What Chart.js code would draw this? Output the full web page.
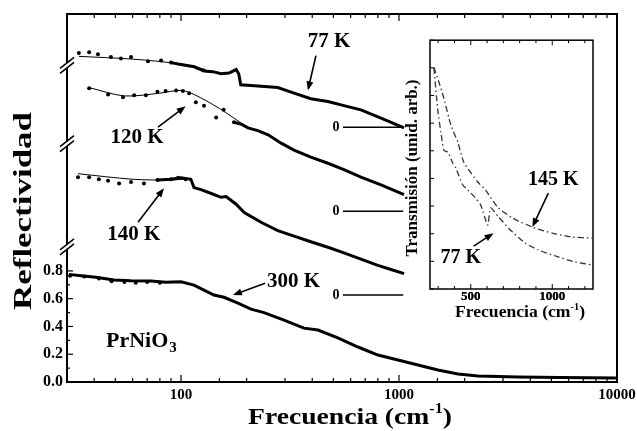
<!DOCTYPE html>
<html lang="es">
<head>
<meta charset="UTF-8">
<title>PrNiO3 - Reflectividad</title>
<script src="https://cdn.jsdelivr.net/npm/chart.js"></script>
<style>
  html, body { margin: 0; padding: 0; background: #fff; }
  #wrap { position: relative; width: 637px; height: 431px; }
  #main { position: absolute; left: 0; top: 0; }
  #inset { position: absolute; left: 395px; top: 30px; }
</style>
</head>
<body>
<div id="wrap">
  <canvas id="main" width="637" height="431"></canvas>
  <canvas id="inset" width="210" height="300"></canvas>
</div>
<script>
// ---- panel principal: frecuencia (cm-1) y reflectividad (curvas desplazadas) ----
const f300 = [30.6, 34.8, 40.7, 49.3, 58.9, 72.8, 85.3, 100, 114.7, 127.5, 141.6, 157.5, 182.5, 209.4, 240.3, 296.9, 366.4, 424.9, 524.5, 648.3, 801, 989, 1222, 1509, 1865, 2303, 3514, 5500, 9886];
const r300 = [0.775, 0.765, 0.755, 0.735, 0.73, 0.728, 0.718, 0.722, 0.698, 0.662, 0.626, 0.61, 0.568, 0.525, 0.50, 0.446, 0.388, 0.374, 0.317, 0.252, 0.194, 0.158, 0.122, 0.086, 0.058, 0.043, 0.036, 0.032, 0.029];
const dotF300 = [31, 36, 42, 48, 55, 62, 70, 80];
const dotR300 = [0.765, 0.76, 0.745, 0.725, 0.72, 0.715, 0.72, 0.715];

const dotF77 = [34, 37.9, 41.6, 47.7, 53, 59, 70.6, 81, 90];
const dotR77 = [2.37, 2.375, 2.36, 2.34, 2.33, 2.34, 2.31, 2.315, 2.30];
const fitF77 = [34, 60, 100, 130];
const fitR77 = [2.345, 2.325, 2.29, 2.25];
const dataF77 = [90, 97, 115, 127.5, 140, 152.6, 166, 179, 184, 188, 209, 233, 278, 330, 394, 472, 559, 669, 827, 1055];
const dataR77 = [2.30, 2.29, 2.27, 2.24, 2.235, 2.22, 2.225, 2.25, 2.22, 2.14, 2.135, 2.13, 2.12, 2.08, 2.04, 2.02, 1.99, 1.96, 1.90, 1.83];

const dotF120 = [37.9, 46.3, 54.2, 61, 69, 78, 85, 95, 102, 109, 117, 127.5, 145, 157, 175];
const dotR120 = [2.115, 2.07, 2.05, 2.065, 2.065, 2.09, 2.095, 2.10, 2.095, 2.08, 2.015, 1.99, 1.905, 1.96, 1.87];
const fitF120 = [37.9, 55, 80, 100, 115, 150, 203];
const fitR120 = [2.12, 2.06, 2.08, 2.10, 2.07, 1.97, 1.83];
const dataF120 = [175, 190, 203, 225, 251, 288, 330, 394, 472, 559, 669, 827, 1055];
const dataR120 = [1.87, 1.855, 1.83, 1.81, 1.78, 1.72, 1.67, 1.62, 1.575, 1.53, 1.475, 1.42, 1.35];

const dotF140 = [33.7, 37.9, 42, 46.3, 52, 59, 67.6, 78, 90, 97, 105];
const dotR140 = [1.475, 1.475, 1.46, 1.45, 1.43, 1.44, 1.43, 1.455, 1.46, 1.47, 1.46];
const fitF140 = [33.7, 60, 90, 112];
const fitR140 = [1.50, 1.46, 1.455, 1.465];
const dataF140 = [78, 90, 100, 111, 114.7, 123.5, 141.6, 152.6, 161, 179, 195, 233, 278, 330, 394, 472, 559, 669, 800, 919, 1055];
const dataR140 = [1.455, 1.46, 1.47, 1.46, 1.40, 1.385, 1.35, 1.33, 1.335, 1.28, 1.22, 1.15, 1.09, 1.05, 1.01, 0.97, 0.93, 0.885, 0.84, 0.81, 0.78];

const zeroLevels = [1.835, 1.23, 0.626];
const zeroF = [553, 1046];
const breakLevels = [2.28, 1.717, 0.973];
const yTickLabels = ['0.0', '0.2', '0.4', '0.6', '0.8'];
const xTickLabels = [100, 1000, 10000];

// ---- recuadro: transmision ----
const insF145 = [274, 305, 335, 378, 421, 457, 543, 591, 665, 756, 878, 1000, 1122, 1244];
const insT145 = [8.02, 7.48, 6.90, 5.93, 5.31, 4.59, 3.87, 3.58, 2.96, 2.57, 2.24, 2.02, 1.88, 1.84];
const insF77 = [274, 299, 317, 335, 360, 390, 409, 451, 482, 530, 561, 604, 622, 671, 756, 835, 915, 1037, 1140, 1244];
const insT77 = [7.99, 6.40, 5.67, 5.02, 4.95, 4.55, 4.37, 3.76, 3.58, 3.29, 3.04, 2.31, 2.93, 2.60, 2.06, 1.66, 1.41, 1.16, 0.98, 0.87];
const insXTicks = [300, 400, 500, 600, 700, 800, 900, 1000, 1100, 1200];
const insXTickLabels = ['500', '1000'];

const serif = "'Liberation Serif', 'DejaVu Serif', serif";

function pts(xs, ys) {
    return xs.map((x, i) => ({ x: x, y: ys[i] }));
}
function thick(xs, ys) {
    return { data: pts(xs, ys), borderColor: '#000', borderWidth: 3, pointRadius: 0, tension: 0 };
}
function thin(xs, ys) {
    return { data: pts(xs, ys), borderColor: '#000', borderWidth: 1, pointRadius: 0, tension: 0.3 };
}
function dots(xs, ys) {
    return { data: pts(xs, ys), showLine: false, pointRadius: 2, pointBorderWidth: 0, pointBackgroundColor: '#000' };
}
function dashDot(xs, ys) {
    return { data: pts(xs, ys), borderColor: '#333', borderWidth: 1.3, borderDash: [6, 3, 1.5, 3], pointRadius: 0, tension: 0.2 };
}
function isDecade(v) {
    const l = Math.log10(v);
    return Math.abs(l - Math.round(l)) < 1e-6;
}
function line(ctx, x1, y1, x2, y2) {
    ctx.beginPath(); ctx.moveTo(x1, y1); ctx.lineTo(x2, y2); ctx.stroke();
}
function arrow(ctx, x1, y1, x2, y2) {
    const a = Math.atan2(y2 - y1, x2 - x1), L = 9, W = 3.5;
    ctx.lineWidth = 1.6;
    line(ctx, x1, y1, x2 - 6 * Math.cos(a), y2 - 6 * Math.sin(a));
    ctx.beginPath();
    ctx.moveTo(x2, y2);
    ctx.lineTo(x2 - L * Math.cos(a) + W * Math.sin(a), y2 - L * Math.sin(a) - W * Math.cos(a));
    ctx.lineTo(x2 - L * Math.cos(a) - W * Math.sin(a), y2 - L * Math.sin(a) + W * Math.cos(a));
    ctx.closePath();
    ctx.fill();
}
// text made of pieces [text, size, dy], stretched to a given width
function fitText(ctx, parts, cx, cy, width, angle) {
    let total = 0;
    parts.forEach(p => { ctx.font = 'bold ' + p[1] + 'px ' + serif; total += ctx.measureText(p[0]).width; });
    ctx.save();
    ctx.translate(cx, cy);
    ctx.rotate(angle || 0);
    ctx.scale(width / total, 1);
    ctx.textAlign = 'left';
    ctx.textBaseline = 'middle';
    let x = -total / 2;
    parts.forEach(p => {
        ctx.font = 'bold ' + p[1] + 'px ' + serif;
        ctx.fillText(p[0], x, p[2] || 0);
        x += ctx.measureText(p[0]).width;
    });
    ctx.restore();
}
function label(ctx, text, px, py, size) {
    ctx.font = 'bold ' + size + 'px ' + serif;
    ctx.textAlign = 'center';
    ctx.textBaseline = 'middle';
    ctx.fillText(text, px, py);
}

// ---- inset first, so the main panel can reuse its x scale for the tick labels ----
const insetDeco = {
    id: 'insetDeco',
    beforeDraw(chart) {
        const ctx = chart.ctx, a = chart.chartArea;
        ctx.save();
        ctx.fillStyle = '#fff';
        ctx.fillRect(a.left, a.top, a.right - a.left, a.bottom - a.top);
        ctx.restore();
    },
    afterDraw(chart) {
        const ctx = chart.ctx, a = chart.chartArea, x = chart.scales.x, y = chart.scales.y;
        const X = v => x.getPixelForValue(v), Y = v => y.getPixelForValue(v);
        ctx.save();
        ctx.strokeStyle = '#000';
        ctx.fillStyle = '#000';
        ctx.lineWidth = 1;
        insXTicks.forEach(v => {
            const len = insXTickLabels.includes(String(v)) ? 5 : 3;
            line(ctx, X(v), a.bottom, X(v), a.bottom - len);
            line(ctx, X(v), a.top, X(v), a.top + len);
        });
        y.ticks.forEach(t => line(ctx, a.left, Y(t.value), a.left + 4, Y(t.value)));
        ctx.lineWidth = 1.5;
        ctx.strokeRect(a.left, a.top, a.right - a.left, a.bottom - a.top);

        label(ctx, '145 K', X(1006), Y(3.94), 20);
        label(ctx, '77 K', X(439), Y(1.12), 20);
        arrow(ctx, X(976), Y(3.47), X(878), Y(2.24));
        arrow(ctx, X(518), Y(1.55), X(640), Y(2.02));

        fitText(ctx, [['Frecuencia (cm', 17], ['-1', 10, -6], [')', 17]], 125, 283, 130);
        fitText(ctx, [['Transmisión (unid. arb.)', 16]], 18, 138, 177, -Math.PI / 2);

        ctx.font = 'bold 13px ' + serif;
        ctx.textAlign = 'center';
        ctx.textBaseline = 'middle';
        ctx.fillStyle = '#000';
        insXTickLabels.forEach(s => ctx.fillText(s, X(Number(s)), a.bottom + 8));
        ctx.restore();
    }
};

const insetChart = new Chart(document.getElementById('inset'), {
    type: 'line',
    data: {
        datasets: [dashDot(insF145, insT145), dashDot(insF77, insT77)]
    },
    options: {
        responsive: false,
        animation: false,
        layout: { padding: { top: 10, right: 12, left: 0, bottom: 0 } },
        plugins: { legend: { display: false }, tooltip: { enabled: false } },
        scales: {
            x: {
                type: 'linear', min: 250, max: 1250,
                grid: { display: false, drawTicks: false }, border: { display: false },
                afterFit: s => { s.height = 41; s.paddingRight = 0; s.paddingLeft = 0; },
                ticks: { display: false }
            },
            y: {
                min: 0, max: 9,
                grid: { display: false, drawTicks: false }, border: { display: false },
                afterFit: s => { s.width = 35; },
                ticks: { stepSize: 1, callback: () => '' }
            }
        }
    },
    plugins: [insetDeco]
});

const mainDeco = {
    id: 'mainDeco',
    afterDraw(chart) {
        const ctx = chart.ctx, a = chart.chartArea, x = chart.scales.x, y = chart.scales.y;
        const X = v => x.getPixelForValue(v), Y = v => y.getPixelForValue(v);
        ctx.save();
        ctx.strokeStyle = '#000';
        ctx.fillStyle = '#000';

        // inward ticks
        ctx.lineWidth = 1.2;
        x.ticks.forEach(t => {
            const px = X(t.value), len = isDecade(t.value) ? 7 : 4;
            line(ctx, px, a.bottom, px, a.bottom - len);
            line(ctx, px, a.top, px, a.top + len);
        });
        y.ticks.forEach(t => {
            if (t.value > 0.85) return;
            const len = Math.round(t.value * 10) % 2 === 0 ? 6 : 3;
            line(ctx, a.left, Y(t.value), a.left + len, Y(t.value));
        });

        ctx.lineWidth = 2;
        ctx.strokeRect(a.left, a.top, a.right - a.left, a.bottom - a.top);

        // axis breaks
        breakLevels.forEach(v => {
            const py = Y(v), px = a.left;
            ctx.fillStyle = '#fff';
            ctx.beginPath();
            ctx.moveTo(px - 7, py + 3); ctx.lineTo(px + 7, py - 8);
            ctx.lineTo(px + 7, py - 3); ctx.lineTo(px - 7, py + 8);
            ctx.closePath(); ctx.fill();
            ctx.lineWidth = 1.6;
            line(ctx, px - 7, py + 3, px + 7, py - 8);
            line(ctx, px - 7, py + 8, px + 7, py - 3);
        });
        ctx.fillStyle = '#000';

        // zero references
        zeroLevels.forEach(v => label(ctx, '0', X(514), Y(v), 14));

        // temperature labels and arrows
        label(ctx, '77 K', X(478), Y(2.45), 21);
        label(ctx, '120 K', X(62.8), Y(1.759), 21);
        label(ctx, '140 K', X(60.8), Y(1.061), 21);
        label(ctx, '300 K', X(328), Y(0.72), 21);
        arrow(ctx, X(416), Y(2.35), X(382), Y(2.10));
        arrow(ctx, X(78.4), Y(1.835), X(105), Y(1.986));
        arrow(ctx, X(63.5), Y(1.151), X(83.6), Y(1.396));
        arrow(ctx, X(243), Y(0.712), X(173), Y(0.626));

        // compound
        ctx.textAlign = 'left';
        ctx.textBaseline = 'middle';
        ctx.font = 'bold 22px ' + serif;
        const px0 = X(45.3), py0 = Y(0.295);
        ctx.fillText('PrNiO', px0, py0);
        const w = ctx.measureText('PrNiO').width;
        ctx.font = 'bold 15px ' + serif;
        ctx.fillText('3', px0 + w + 1, py0 + 7);

        // inset tick labels, also painted here under the transparent part of the inset canvas
        const ix = insetChart.scales.x, ia = insetChart.chartArea;
        const cv = insetChart.canvas;
        insXTickLabels.forEach(s => label(ctx, s, cv.offsetLeft + ix.getPixelForValue(Number(s)), cv.offsetTop + ia.bottom + 8, 13));

        // axis titles
        fitText(ctx, [['Frecuencia (cm', 24], ['-1', 14, -9], [')', 24]], 350, a.bottom + 36, 204);
        fitText(ctx, [['Reflectividad', 25]], 25, 211, 198, -Math.PI / 2);
        ctx.restore();
    }
};

new Chart(document.getElementById('main'), {
    type: 'line',
    data: {
        datasets: [
            thick(f300, r300), dots(dotF300, dotR300),
            dots(dotF77, dotR77), thin(fitF77, fitR77), thick(dataF77, dataR77),
            dots(dotF120, dotR120), thin(fitF120, fitR120), thick(dataF120, dataR120),
            dots(dotF140, dotR140), thin(fitF140, fitR140), thick(dataF140, dataR140),
            ...zeroLevels.map(v => ({ data: zeroF.map(f => ({ x: f, y: v })), borderColor: '#000', borderWidth: 1.5, pointRadius: 0 }))
        ]
    },
    options: {
        responsive: false,
        animation: false,
        layout: { padding: { top: 14, right: 20, left: 0, bottom: 0 } },
        plugins: { legend: { display: false }, tooltip: { enabled: false } },
        scales: {
            x: {
                type: 'logarithmic', min: 30, max: 10000,
                grid: { display: false, drawTicks: false }, border: { display: false },
                afterFit: s => { s.height = 49; s.paddingRight = 0; s.paddingLeft = 0; },
                ticks: {
                    autoSkip: false, maxRotation: 0, padding: 4, color: '#000',
                    font: { family: serif, size: 15, weight: 'bold' },
                    callback: v => xTickLabels.find(t => Math.abs(t - v) < 1e-6) ? String(Math.round(v)) : ''
                }
            },
            y: {
                min: 0, max: 2.65,
                grid: { display: false, drawTicks: false }, border: { display: false },
                afterFit: s => { s.width = 67; },
                ticks: {
                    stepSize: 0.1, autoSkip: false, padding: 4, color: '#000',
                    font: { family: serif, size: 16, weight: 'bold' },
                    callback: v => {
                        const i = Math.round(v * 10);
                        return (i % 2 === 0 && i / 2 < yTickLabels.length && Math.abs(v * 10 - i) < 1e-6) ? yTickLabels[i / 2] : '';
                    }
                }
            }
        }
    },
    plugins: [mainDeco]
});
</script>
</body>
</html>
